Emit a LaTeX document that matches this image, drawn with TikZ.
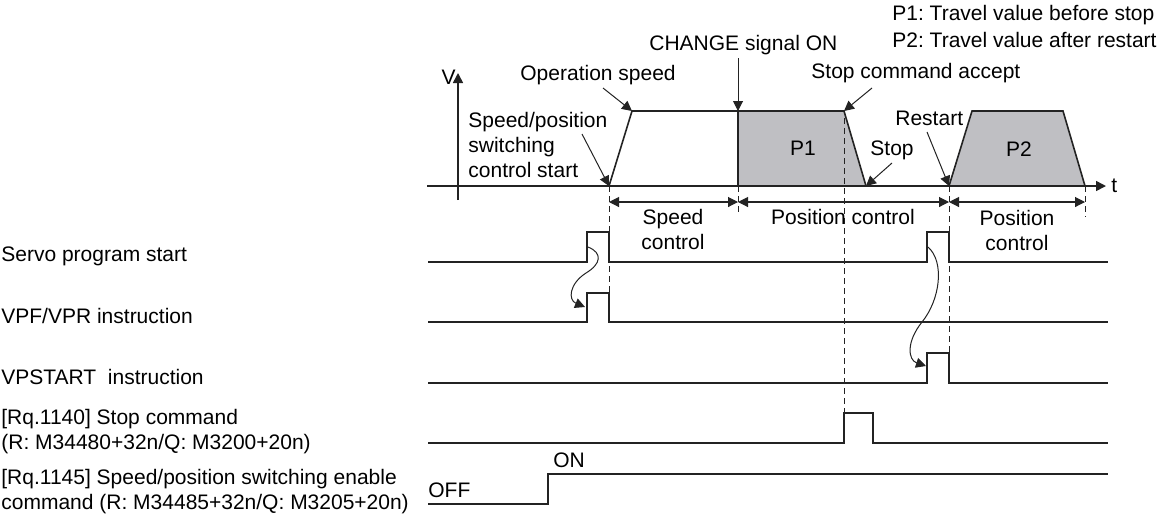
\documentclass[tikz,border=0pt]{standalone}
\usepackage{fontspec}
\setmainfont{Liberation Sans}
\usetikzlibrary{arrows.meta}
\definecolor{linec}{RGB}{35,35,35}
\definecolor{pfill}{RGB}{191,191,195}
\frenchspacing
\begin{document}
\begin{tikzpicture}[x=0.5pt,y=-0.5pt,
  font=\fontsize{10.5}{12.5}\selectfont,
  sig/.style={line width=0.85pt, draw=linec},
  ax/.style={line width=0.8pt, draw=linec},
  tip/.style={-{Triangle[length=5pt,width=5pt]}},
  ann/.style={line width=0.5pt, draw=linec, -{Triangle[length=5pt,width=5pt]}},
  dsh/.style={line width=0.5pt, draw=linec, dash pattern=on 3pt off 2pt},
  dimline/.style={line width=0.55pt, draw=linec, {Triangle[length=5pt,width=5pt]}-{Triangle[length=5pt,width=5pt]}},
  lbl/.style={inner sep=0pt, anchor=west, align=left},
  ctxt/.style={inner sep=0pt, align=center}]
\useasboundingbox (0,0) rectangle (1162,516);

% ---------- key coordinates ----------
\coordinate (s0) at (609,186);   % speed start
\coordinate (s1) at (632,111);   % operation speed reached
\coordinate (c0) at (738,111);   % change signal on
\coordinate (c1) at (738,186);
\coordinate (k0) at (844,111);   % stop command accept
\coordinate (k1) at (866,186);   % stop
\coordinate (r0) at (949,186);   % restart
\coordinate (r1) at (972,111);
\coordinate (r2) at (1063,111);
\coordinate (r3) at (1085,186);

% ---------- dashed guide lines ----------
\draw[dsh] (609,186) -- (609,293);
\draw[dsh] (738,186) -- (738,215);
\draw[dsh] (844,118) -- (844,413);
\draw[dsh] (949,186) -- (949,353);
\draw[dsh] (1085,186) -- (1085,217);

% ---------- profile ----------
\draw[ax, fill=pfill] (c1) -- (c0) -- (k0) -- (k1) -- cycle;
\draw[ax, fill=pfill] (r0) -- (r1) -- (r2) -- (r3) -- cycle;
\draw[ax] (s0) -- (s1) -- (c0);
\draw[dsh] (844,118) -- (844,186);

% axes
\coordinate (taxL) at (427,186);
\coordinate (taxR) at (1106,186);
\coordinate (vaxB) at (458,200);
\coordinate (vaxT) at (458,73);
\draw[ax, tip] (taxL) -- (taxR);
\draw[ax, tip] (vaxB) -- (vaxT);
\node[inner sep=0pt, anchor=west] (tlab) at (1111,186) {t};
\node[inner sep=0pt, anchor=east] (vlab) at (456,77) {V};

% ---------- labels on the profile ----------
\node[ctxt] (p1) at (803,148) {P1};
\node[ctxt] (p2) at (1019,149) {P2};
\node[lbl] (opspeed) at (520,75) {Operation speed};
\node[lbl] (swstart) at (468,145) {Speed/position\\switching\\control start};
\node[lbl] (change) at (649,45) {CHANGE signal ON};
\node[lbl] (accept) at (811,73) {Stop command accept};
\node[lbl] (restart) at (895,118) {Restart};
\node[lbl] (stoplab) at (870,150) {Stop};
\node[lbl] (leg1) at (892,15) {P1: Travel value before stop};
\node[lbl] (leg2) at (892,40) {P2: Travel value after restart};

% annotation arrows
\coordinate (a1) at (603,88);
\coordinate (a2) at (582,134);
\coordinate (a3) at (738,58);
\coordinate (a4) at (872,88);
\coordinate (a5) at (927,132);
\coordinate (a6) at (892,163);
\draw[ann] (a1) -- (s1);
\draw[ann] (a2) -- (s0);
\draw[ann] (a3) -- (c0);
\draw[ann] (a4) -- (k0);
\draw[ann] (a5) -- (r0);
\draw[ann] (a6) -- (k1);

% ---------- dimension arrows ----------
\coordinate (d0) at (609,202);
\coordinate (d1) at (738,202);
\coordinate (d2) at (949,202);
\coordinate (d3) at (1085,202);
\draw[dimline] (d0) -- (d1);
\draw[dimline] (d1) -- (d2);
\draw[dimline] (d2) -- (d3);
\node[ctxt] (spc) at (673,229) {Speed\\control};
\node[ctxt] (poc1) at (843,217) {Position control};
\node[ctxt] (poc2) at (1017,230) {Position\\control};

% ---------- signal labels ----------
\node[lbl] (l1) at (1,256) {Servo program start};
\node[lbl] (l2) at (1,316) {VPF/VPR instruction};
\node[lbl] (l3) at (1,377) {VPSTART\ \ instruction};
\node[lbl] (l4) at (1,432) {[Rq.1140] Stop command\\(R: M34480+32n/Q: M3200+20n)};
\node[lbl] (l5) at (1,492) {[Rq.1145] Speed/position switching enable\\command (R: M34485+32n/Q: M3205+20n)};

% ---------- signals ----------
% Servo program start
\draw[sig] (428,262) -- (587,262) -- (587,232) -- (609,232) -- (609,262) -- (927,262) -- (927,232) -- (949,232) -- (949,262) -- (1108,262);
% VPF/VPR
\draw[sig] (428,322) -- (587,322) -- (587,293) -- (609,293) -- (609,322) -- (1108,322);
% VPSTART
\draw[sig] (428,383) -- (927,383) -- (927,353) -- (949,353) -- (949,383) -- (1108,383);
% Stop command
\draw[sig] (428,443) -- (844,443) -- (844,413) -- (873,413) -- (873,443) -- (1108,443);
% Enable
\draw[sig] (428,504) -- (548,504) -- (548,474) -- (1108,474);
\node[lbl] (off) at (428,490) {OFF};
\node[lbl] (on) at (553,460) {ON};

% ---------- curved cause arrows ----------
\coordinate (e1) at (588,247);
\coordinate (f1) at (585,307);
\coordinate (e2) at (928,247);
\coordinate (f2) at (926,366);
\draw[ann] (e1) .. controls (603,253) and (601,264) .. (586,273)
           .. controls (569,284) and (568,300) .. (f1);
\draw[ann] (e2) .. controls (945,262) and (940,300) .. (922,322)
           .. controls (906,342) and (908,360) .. (f2);
\end{tikzpicture}
\end{document}
